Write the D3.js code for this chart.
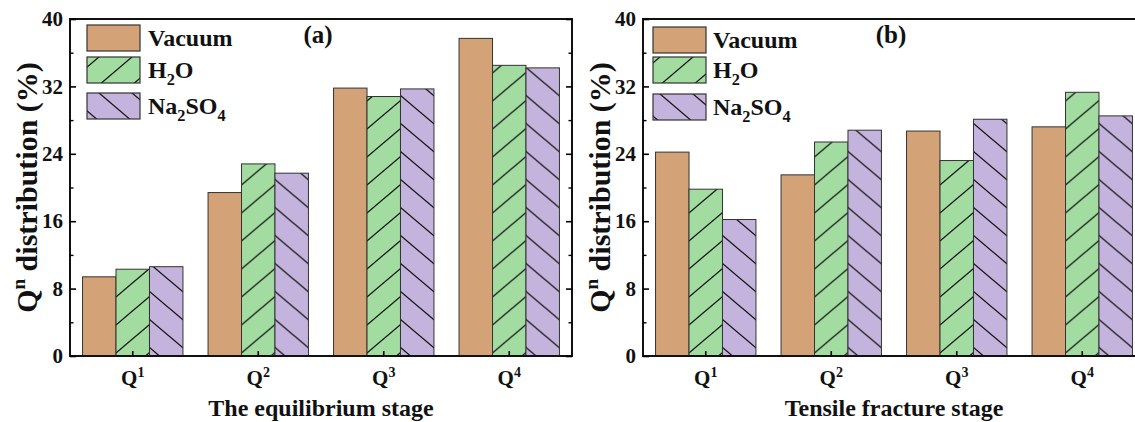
<!DOCTYPE html>
<html>
<head>
<meta charset="utf-8">
<script src="https://cdn.jsdelivr.net/npm/d3@7"></script>
<style>
  body { margin: 0; background: #fff; }
  svg text { font-family: "Liberation Serif", "Times New Roman", serif; font-weight: bold; fill: #111; }
</style>
</head>
<body>
<script>
// data
var categories = ["Q1", "Q2", "Q3", "Q4"];
var seriesNames = ["Vacuum", "H2O", "Na2SO4"];
var equilibriumVacuum = [9.4, 19.4, 31.8, 37.7];
var equilibriumH2O = [10.3, 22.8, 30.8, 34.5];
var equilibriumNa2SO4 = [10.6, 21.7, 31.7, 34.2];
var fractureVacuum = [24.2, 21.5, 26.7, 27.2];
var fractureH2O = [19.8, 25.4, 23.2, 31.3];
var fractureNa2SO4 = [16.2, 26.8, 28.1, 28.5];
var yTicks = [0, 8, 16, 24, 32, 40];
var yMinorTicks = [4, 12, 20, 28, 36];

var width = 1135, height = 422;
var colors = { "Vacuum": "#d4a277", "H2O": "#a3dca1", "Na2SO4": "#c4b4dd" };

var svg = d3.select("body").append("svg")
  .attr("width", width)
  .attr("height", height);

var defs = svg.append("defs");

// hatch fills: "/" for H2O, "\" for Na2SO4
function hatch(id, color, rising) {
  var w = 33, h = 28;
  var p = defs.append("pattern")
    .attr("id", id)
    .attr("patternUnits", "userSpaceOnUse")
    .attr("width", w)
    .attr("height", h);
  p.append("rect").attr("width", w).attr("height", h).attr("fill", color);
  var d = rising
    ? "M0," + h + "L" + w + ",0 M-2,1.7L2,-1.7 M" + (w - 2) + "," + (h + 1.7) + "L" + (w + 2) + "," + (h - 1.7)
    : "M0,0L" + w + "," + h + " M-2," + (h - 1.7) + "L2," + (h + 1.7) + " M" + (w - 2) + ",-1.7L" + (w + 2) + ",1.7";
  p.append("path").attr("d", d).attr("stroke", "#111").attr("stroke-width", 1.3).attr("fill", "none");
}
hatch("hatch-h2o", colors["H2O"], true);
hatch("hatch-na2so4", colors["Na2SO4"], false);

var fills = { "Vacuum": colors["Vacuum"], "H2O": "url(#hatch-h2o)", "Na2SO4": "url(#hatch-na2so4)" };

// puts digits of a chemical name as subscripts
function chemText(sel, name, size) {
  var shift = 0;
  name.split(/(\d+)/).forEach(function(part) {
    if (!part) return;
    if (/^\d+$/.test(part)) {
      sel.append("tspan").attr("font-size", size * 0.68).attr("dy", size * 0.28).text(part);
      shift = -size * 0.28;
    } else {
      sel.append("tspan").attr("dy", shift).text(part);
      shift = 0;
    }
  });
}

function drawPanel(left, tag, xTitle, valuesBySeries, legendX, legendTextX, legendRows) {
  var plotW = 502, top = 19, bottom = 356;

  var x = d3.scaleBand().domain(categories).range([left, left + plotW]).padding(0);
  var xs = d3.scaleBand().domain(seriesNames).range([0, x.bandwidth()]).paddingInner(0).paddingOuter(0.375);
  var y = d3.scaleLinear().domain([0, 40]).range([bottom, top]);

  var g = svg.append("g");

  // bars
  var rows = categories.map(function(c, i) {
    return seriesNames.map(function(s) { return { cat: c, series: s, value: valuesBySeries[s][i] }; });
  });
  g.selectAll(".grp")
    .data(rows)
    .enter().append("g")
    .attr("transform", function(d) { return "translate(" + x(d[0].cat) + ",0)"; })
    .selectAll("rect")
    .data(function(d) { return d; })
    .enter().append("rect")
    .attr("x", function(d) { return xs(d.series); })
    .attr("y", function(d) { return y(d.value); })
    .attr("width", xs.bandwidth())
    .attr("height", function(d) { return bottom - y(d.value); })
    .attr("fill", function(d) { return fills[d.series]; })
    .attr("stroke", "#333")
    .attr("stroke-width", 1);

  // frame
  g.append("rect")
    .attr("x", left).attr("y", top)
    .attr("width", plotW).attr("height", bottom - top)
    .attr("fill", "none").attr("stroke", "#111").attr("stroke-width", 2);

  // left axis, inward ticks
  var yAxis = g.append("g")
    .attr("transform", "translate(" + left + ",0)")
    .call(d3.axisLeft(y).tickValues(yTicks).tickSizeInner(-6).tickSizeOuter(0).tickPadding(7));
  yAxis.select(".domain").remove();
  yAxis.selectAll("line").attr("stroke-width", 1.6);
  yAxis.selectAll("text").attr("font-size", 21).attr("font-family", null).attr("fill", "#111");
  g.append("g")
    .attr("transform", "translate(" + left + ",0)")
    .call(d3.axisLeft(y).tickValues(yMinorTicks).tickSizeInner(-3.5).tickSizeOuter(0).tickFormat(""))
    .call(function(a) { a.select(".domain").remove(); a.selectAll("line").attr("stroke-width", 1.4); });

  // right axis mirror ticks
  [yTicks, yMinorTicks].forEach(function(vals, k) {
    g.append("g")
      .attr("transform", "translate(" + (left + plotW) + ",0)")
      .call(d3.axisRight(y).tickValues(vals).tickSizeInner(k ? -3.5 : -6).tickSizeOuter(0).tickFormat(""))
      .call(function(a) { a.select(".domain").remove(); a.selectAll("line").attr("stroke-width", k ? 1.4 : 1.6); });
  });

  // bottom axis
  var xAxis = g.append("g")
    .attr("transform", "translate(0," + bottom + ")")
    .call(d3.axisBottom(x).tickSizeInner(-5).tickSizeOuter(0).tickPadding(14));
  xAxis.select(".domain").remove();
  xAxis.selectAll("line").attr("stroke-width", 1.6);
  xAxis.selectAll("text")
    .attr("font-size", 21).attr("font-family", null).attr("fill", "#111")
    .text(null)
    .each(function(d) {
      var t = d3.select(this);
      t.append("tspan").text(d.charAt(0));
      t.append("tspan").attr("font-size", 14).attr("dy", -8).text(d.slice(1));
    });

  // y title
  var yt = g.append("text")
    .attr("transform", "translate(" + (left - 33) + "," + ((top + bottom) / 2) + ") rotate(-90)")
    .attr("text-anchor", "middle")
    .attr("font-size", 30);
  yt.append("tspan").text("Q");
  yt.append("tspan").attr("font-size", 19).attr("dy", -12).text("n");
  yt.append("tspan").attr("dy", 12).text(" distribution (%)");

  // x title
  g.append("text")
    .attr("x", left + plotW / 2)
    .attr("y", 416)
    .attr("text-anchor", "middle")
    .attr("font-size", 24)
    .text(xTitle);

  // panel tag
  g.append("text")
    .attr("x", left + 248)
    .attr("y", 43)
    .attr("text-anchor", "middle")
    .attr("font-size", 25)
    .text(tag);

  // legend
  var leg = g.selectAll(".leg")
    .data(seriesNames)
    .enter().append("g")
    .attr("transform", function(d, i) { return "translate(0," + legendRows[i] + ")"; });
  leg.append("rect")
    .attr("x", legendX).attr("y", 0)
    .attr("width", 53).attr("height", 26)
    .attr("fill", function(d) { return fills[d]; })
    .attr("stroke", "#333").attr("stroke-width", 1.2);
  leg.append("text")
    .attr("x", legendTextX)
    .attr("y", 21)
    .attr("font-size", 24)
    .each(function(d) { chemText(d3.select(this), d, 24); });
}

drawPanel(70, "(a)", "The equilibrium stage",
  { "Vacuum": equilibriumVacuum, "H2O": equilibriumH2O, "Na2SO4": equilibriumNa2SO4 }, 87, 148, [25, 57, 93]);
drawPanel(643, "(b)", "Tensile fracture stage",
  { "Vacuum": fractureVacuum, "H2O": fractureH2O, "Na2SO4": fractureNa2SO4 }, 653, 713, [27, 57, 94]);
</script>
</body>
</html>
